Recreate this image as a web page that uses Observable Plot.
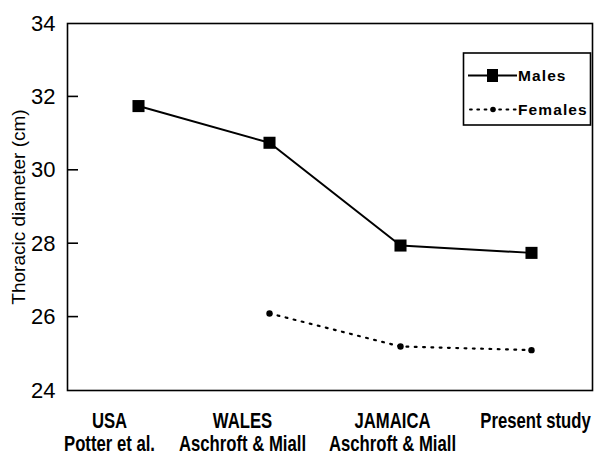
<!DOCTYPE html>
<html>
<head>
<meta charset="utf-8">
<script src="https://cdn.jsdelivr.net/npm/d3@7"></script>
<script src="https://cdn.jsdelivr.net/npm/@observablehq/plot@0.6"></script>
<style>
  html, body { margin: 0; padding: 0; background: #fff; }
  #chart { width: 594px; height: 461px; }
</style>
</head>
<body>
<div id="chart"></div>
<script>
// ---- data ----
const categories = ["USA", "WALES", "JAMAICA", "Present study"];
const subLabels = ["Potter et al.", "Aschroft & Miall", "Aschroft & Miall", ""];
const males = [31.75, 30.75, 27.95, 27.75];
const females = [null, 26.1, 25.2, 25.1];
const yTicks = [24, 26, 28, 30, 32, 34];
const innerTicks = [26, 28, 30, 32];
const seriesNames = ["Males", "Females"];
const yTitle = "Thoracic diameter (cm)";

const maleData = categories.map((c, i) => ({cat: c, v: males[i]}));
const femaleData = categories.map((c, i) => ({cat: c, v: females[i]})).filter(d => d.v != null);
const labelData = categories.map((c, i) => ({cat: c, l1: c, l2: subLabels[i]}));

// layout (not data)
const W = 594, H = 461;
const mL = 67, mT = 23, mR = 2, mB = 71;
const labelShift = [-29, -27, -8, 4];
const sans = "'Liberation Sans', Arial, Helvetica, sans-serif";

const labelMarks = [];
categories.forEach((c, i) => {
  const d = labelData.filter(r => r.cat === c);
  labelMarks.push(Plot.text(d, {x: "cat", text: "l1", frameAnchor: "bottom", dx: labelShift[i], dy: 30, fontSize: 22, fontWeight: "bold", lineAnchor: "middle"}));
  labelMarks.push(Plot.text(d, {x: "cat", text: "l2", frameAnchor: "bottom", dx: labelShift[i], dy: 53.5, fontSize: 22, fontWeight: "bold", lineAnchor: "middle"}));
});

const chart = Plot.plot({
  width: W,
  height: H,
  marginLeft: mL,
  marginTop: mT,
  marginRight: mR,
  marginBottom: mB,
  style: {fontFamily: sans, background: "#fff", color: "#000"},
  x: {type: "point", domain: categories, range: [137, 532], padding: 0, axis: null},
  y: {domain: [24, 34], axis: null},
  marks: [
    Plot.frame({stroke: "#000", strokeWidth: 1.6}),
    Plot.axisY({ticks: yTicks, tickSize: 0, tickPadding: 12, fontSize: 22, label: null}),
    Plot.text([yTitle], {frameAnchor: "left", textAnchor: "middle", rotate: -90, dx: -49, fontSize: 19}),
    Plot.line(femaleData, {x: "cat", y: "v", stroke: "#000", strokeWidth: 2.2, strokeDasharray: "1.8,6.5", strokeLinecap: "round"}),
    Plot.dot(femaleData, {x: "cat", y: "v", r: 3.2, fill: "#000"}),
    Plot.line(maleData, {x: "cat", y: "v", stroke: "#000", strokeWidth: 2}),
    Plot.dot(maleData, {x: "cat", y: "v", symbol: "square", r: 6.8, fill: "#000"}),
    ...labelMarks
  ]
});

document.getElementById("chart").appendChild(chart);

const svg = d3.select(chart);
// condensed look for the bold category labels: scale horizontally about each label's centre
const labelSet = new Set([...categories, ...subLabels.filter(s => s)]);
svg.selectAll("text").filter(function () { return labelSet.has(this.textContent); }).each(function () {
  const b = this.getBBox();
  if (b.width > 0) {
    const cx = b.x + b.width / 2;
    const t = this.getAttribute("transform") || "";
    this.setAttribute("transform", `${t} translate(${cx},0) scale(0.76,1) translate(${-cx},0)`.trim());
  }
});

// inward tick marks on the left axis, positioned with Plot's own y scale
const yScale = chart.scale("y");
const yPix = v => (yScale && yScale.apply) ? yScale.apply(v) : (mT + (34 - v) / 10 * (H - mT - mB));
const tg = svg.append("g").attr("class", "inner-ticks");
innerTicks.forEach(v => {
  tg.append("line")
    .attr("x1", mL).attr("x2", mL + 11)
    .attr("y1", yPix(v)).attr("y2", yPix(v))
    .attr("stroke", "#000").attr("stroke-width", 1.6);
});

// ---- legend (inside plot, top right) ----
const lg = svg.append("g").attr("class", "legend");
lg.append("rect").attr("x", 463.5).attr("y", 53).attr("width", 127).attr("height", 72)
  .attr("fill", "#fff").attr("stroke", "#000").attr("stroke-width", 1.6);
const rowsY = [75.5, 109.5];
lg.append("line").attr("x1", 468).attr("x2", 517).attr("y1", rowsY[0]).attr("y2", rowsY[0])
  .attr("stroke", "#000").attr("stroke-width", 2);
lg.append("rect").attr("x", 487).attr("y", rowsY[0] - 6.5).attr("width", 11).attr("height", 13).attr("fill", "#000");
lg.append("line").attr("x1", 470).attr("x2", 516).attr("y1", rowsY[1]).attr("y2", rowsY[1])
  .attr("stroke", "#000").attr("stroke-width", 2).attr("stroke-dasharray", "1.8,5.5").attr("stroke-linecap", "round");
lg.append("circle").attr("cx", 493).attr("cy", rowsY[1]).attr("r", 2.8).attr("fill", "#000");
seriesNames.forEach((n, i) => {
  lg.append("text").attr("x", 518).attr("y", rowsY[i]).attr("dy", "0.35em")
    .attr("text-anchor", "start")
    .attr("font-size", 15.5).attr("font-weight", "bold").attr("letter-spacing", "1.1px")
    .attr("font-family", sans).attr("fill", "#000").text(n);
});
</script>
</body>
</html>
